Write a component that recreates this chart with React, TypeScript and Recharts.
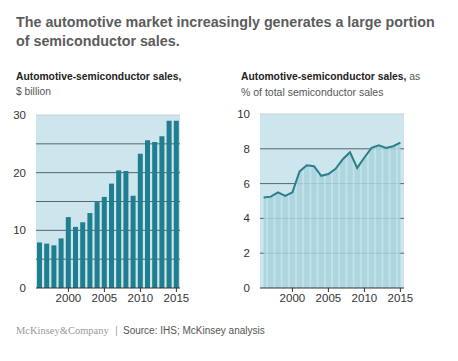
import {
	Area,
	Bar,
	BarChart,
	CartesianGrid,
	ComposedChart,
	Line,
	ReferenceLine,
	XAxis,
	YAxis,
} from 'recharts';

const years = [
	1996, 1997, 1998, 1999, 2000, 2001, 2002, 2003, 2004, 2005, 2006, 2007, 2008, 2009, 2010,
	2011, 2012, 2013, 2014, 2015,
];
const salesBillion = [
	7.9, 7.7, 7.4, 8.6, 12.3, 10.6, 11.4, 13.0, 14.9, 15.8, 18.1, 20.4, 20.3, 16.0, 23.3, 25.6,
	25.3, 26.3, 29.0, 29.0,
];
const sharePercent = [
	5.2, 5.25, 5.5, 5.3, 5.5, 6.7, 7.05, 7.0, 6.45, 6.55, 6.85, 7.4, 7.8, 6.9, 7.5, 8.05, 8.2,
	8.05, 8.15, 8.35,
];
const yearTicks = [2000, 2005, 2010, 2015];
const salesTicks = [0, 10, 20, 30];
const salesGrid = [5, 10, 15, 20, 25];
const shareTicks = [0, 2, 4, 6, 8, 10];
const shareGrid = [2, 4, 6, 8];

const salesData = years.map((year, i) => ({ year, value: salesBillion[i] }));
const shareData = years.map((year, i) => ({ year, value: sharePercent[i] }));

const font = '"Liberation Sans", Arial, sans-serif';
const tickStyle = { fontSize: 11.5, fill: '#333', fontFamily: font };
const bg = '#cde5ec';

const text = (top: number, left: number, size: number, weight: number, color: string) =>
	({
		position: 'absolute',
		top,
		left,
		fontSize: size,
		fontWeight: weight,
		color,
		fontFamily: font,
		whiteSpace: 'nowrap',
		lineHeight: 1.2,
	}) as React.CSSProperties;

export default function App() {
	return (
		<div
			style={{
				position: 'absolute',
				left: 0,
				top: 0,
				width: 458,
				height: 361,
				background: '#fff',
				overflow: 'hidden',
			}}
		>
			<div style={{ ...text(13, 16, 14.3, 700, '#5c5c5c'), lineHeight: '19px' }}>
				The automotive market increasingly generates a large portion
				<br />
				of semiconductor sales.
			</div>

			<div style={text(71, 16, 10.3, 700, '#222')}>Automotive-semiconductor sales,</div>
			<div style={text(86, 16, 10.3, 400, '#555')}>$ billion</div>

			<div style={text(71, 241, 10.3, 400, '#555')}>
				<b style={{ color: '#222' }}>Automotive-semiconductor sales,</b> as
			</div>
			<div style={text(86, 241, 10.5, 400, '#555')}>% of total semiconductor sales</div>

			<div style={{ position: 'absolute', left: 0, top: 100 }}>
				<BarChart
					width={229}
					height={215}
					data={salesData}
					margin={{ top: 15, right: 49, left: 0, bottom: 7 }}
				>
					<CartesianGrid
						vertical={false}
						fill={bg}
						stroke='#56676c'
						horizontalValues={salesGrid}
					/>
					<XAxis
						dataKey='year'
						type='number'
						domain={[1995.5, 2015.5]}
						ticks={yearTicks}
						tick={tickStyle}
						stroke='#333'
						tickSize={4}
						height={20}
					/>
					<YAxis
						domain={[0, 30]}
						ticks={salesTicks}
						tick={tickStyle}
						axisLine={false}
						tickLine={false}
						tickMargin={4}
						width={36}
					/>
					<ReferenceLine y={30} stroke='#c8cfd2' />
					<Bar dataKey='value' fill='#1f7f90' barSize={5} isAnimationActive={false} />
				</BarChart>
			</div>

			<div style={{ position: 'absolute', left: 229, top: 100 }}>
				<ComposedChart
					width={229}
					height={215}
					data={shareData}
					margin={{ top: 14, right: 54, left: 0, bottom: 7 }}
				>
					<defs>
						<pattern
							id='stripes'
							patternUnits='userSpaceOnUse'
							x={31}
							y={0}
							width={7.2}
							height={10}
						>
							<rect x={0} y={0} width={7.2} height={10} fill='#c4e3ea' />
							<rect x={0.8} y={0} width={5.6} height={10} fill='#a7d3df' />
						</pattern>
					</defs>
					<CartesianGrid
						vertical={false}
						fill={bg}
						stroke='#56676c'
						horizontalValues={shareGrid}
					/>
					<XAxis
						dataKey='year'
						type='number'
						domain={[1995.5, 2015.5]}
						ticks={yearTicks}
						tick={tickStyle}
						stroke='#333'
						tickSize={4}
						height={20}
					/>
					<YAxis
						domain={[0, 10]}
						ticks={shareTicks}
						tick={tickStyle}
						axisLine={false}
						tickLine={false}
						tickMargin={4}
						width={31}
					/>
					<ReferenceLine y={10} stroke='#c8cfd2' />
					<Area
						type='linear'
						dataKey='value'
						stroke='none'
						fill='url(#stripes)'
						fillOpacity={0.85}
						isAnimationActive={false}
					/>
					<Line
						type='linear'
						dataKey='value'
						stroke='#2a7f8b'
						strokeWidth={2}
						dot={false}
						isAnimationActive={false}
					/>
				</ComposedChart>
			</div>

			<div style={{ ...text(325, 16, 10.5, 400, '#999'), fontFamily: '"Liberation Serif", serif' }}>
				McKinsey&amp;Company
			</div>
			<div style={text(324, 115, 11, 400, '#aaa')}>|</div>
			<div style={text(325, 123, 10, 400, '#555')}>Source: IHS; McKinsey analysis</div>
		</div>
	);
}
